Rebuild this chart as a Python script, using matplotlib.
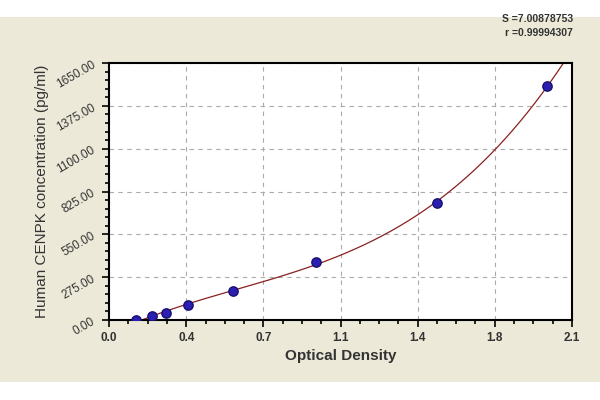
import numpy as np
import matplotlib.pyplot as plt
from matplotlib.patches import Rectangle

plt.rcParams['font.family'] = ['Liberation Sans', 'DejaVu Sans']

od = [0.122, 0.195, 0.259, 0.358, 0.562, 0.939, 1.488, 1.987]
conc = [0.0, 23.44, 46.88, 93.75, 187.5, 375.0, 750.0, 1500.0]
x_ticks = [0.0, 0.35, 0.7, 1.05, 1.4, 1.75, 2.1]
x_labels = ['0.0', '0.4', '0.7', '1.1', '1.4', '1.8', '2.1']
y_ticks = [0, 275, 550, 825, 1100, 1375, 1650]

fig = plt.figure(figsize=(6, 4), dpi=100, facecolor='white')
fig.patches.append(Rectangle((0, 0.045), 1, 0.9125, transform=fig.transFigure,
                             facecolor='#ece9d8', edgecolor='none', zorder=-1))
ax = fig.add_axes([0.182, 0.2, 0.771, 0.6425])
ax.set_facecolor('white')

# smooth fitted curve
coef = np.polyfit(od, conc, 3)
xs = np.linspace(0.1, 2.1, 300)
ys = np.polyval(coef, xs)
ax.plot(xs, ys, color='#8b2020', lw=0.9)
ax.scatter(od, conc, s=45, color='#2a1fb0', edgecolor='#1a1070', zorder=3)

ax.set_xlim(0, 2.1)
ax.set_ylim(0, 1650)
ax.set_xticks(x_ticks)
ax.set_xticklabels(x_labels, fontsize=8.5, fontweight='bold', color='#333333')
ax.set_yticks(y_ticks)
ax.set_yticklabels(['%.2f' % v for v in y_ticks], fontsize=8.5,
                   color='#333333', rotation=30)
ax.set_xticks(np.arange(0, 2.1001, 0.0875), minor=True)
ax.set_yticks(np.arange(0, 1651, 55), minor=True)
ax.tick_params(which='both', direction='out', width=1.2)
ax.tick_params(which='major', length=5)
ax.tick_params(which='minor', length=3)
ax.grid(which='major', color='#aaaaaa', linestyle=(0, (4, 4)), lw=0.8)
for s in ax.spines.values():
    s.set_linewidth(1.5)

ax.set_xlabel('Optical Density', fontsize=11, fontweight='bold', color='#333333')
ax.set_ylabel('Human CENPK concentration (pg/ml)', fontsize=11, color='#333333')
fig.text(0.955, 0.945, 'S =7.00878753', ha='right', fontsize=7.5, fontweight='bold', color='#333333')
fig.text(0.955, 0.91, 'r =0.99994307', ha='right', fontsize=7.5, fontweight='bold', color='#333333')

plt.savefig('out.png', dpi=100)
